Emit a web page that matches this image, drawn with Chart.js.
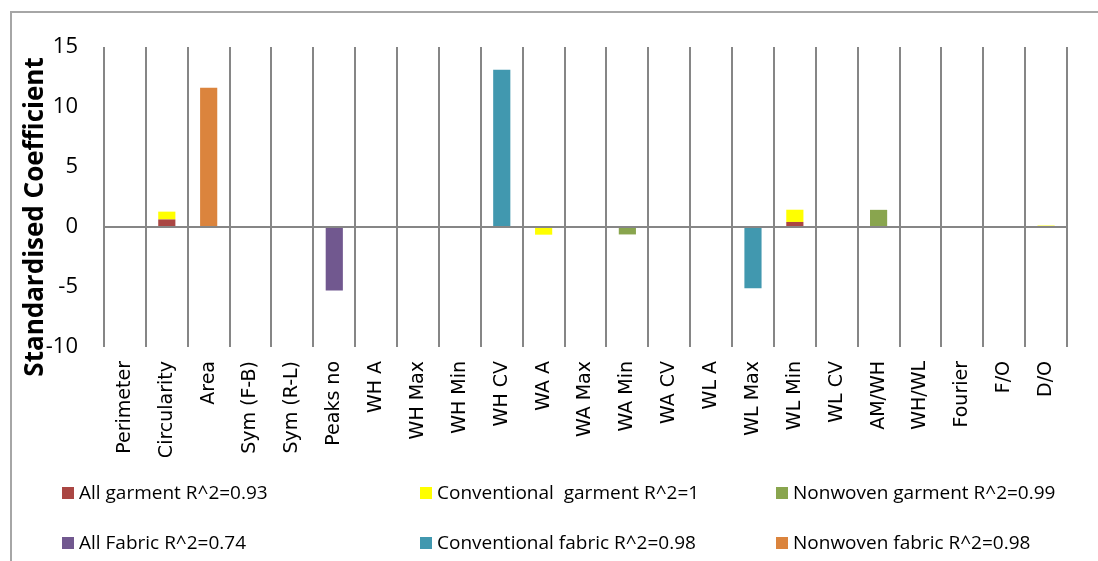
<!DOCTYPE html>
<html>
<head>
<meta charset="utf-8">
<script src="https://cdn.jsdelivr.net/npm/chart.js@4/dist/chart.umd.min.js"></script>
<style>
  body { margin: 0; background: #fff; overflow: hidden; }
  #wrap { position: relative; width: 1098px; height: 561px; }
  #frame { position: absolute; left: 10px; top: 11px; width: 1200px; height: 700px; border: 2px solid #a6a6a6; box-sizing: border-box; }
  canvas { position: absolute; left: 0; top: 0; }
  .lg { position: absolute; font-family: "Open Sans", sans-serif; font-size: 19px; color: #000; white-space: nowrap; line-height: 22px; }
  .lg span { display: inline-block; width: 12px; height: 12px; margin-right: 5px; vertical-align: 0px; }
</style>
</head>
<body>
<div id="wrap">
  <div id="frame"></div>
  <canvas id="myChart" width="1098" height="561"></canvas>
  <div id="legend"></div>
</div>
<script>
const categories = ['Perimeter','Circularity','Area','Sym (F-B)','Sym (R-L)','Peaks no','WH A','WH Max','WH Min','WH CV',
  'WA A','WA Max','WA Min','WA CV','WL A','WL Max','WL Min','WL CV','AM/WH','WH/WL','Fourier','F/O','D/O'];

const seriesNames = ['All garment R^2=0.93','Conventional  garment R^2=1','Nonwoven garment R^2=0.99',
  'All Fabric R^2=0.74','Conventional fabric R^2=0.98','Nonwoven fabric R^2=0.98'];

//                  Per  Cir   Area  SFB  SRL  Peak  WHA  WHMx WHMn WHCV  WAA   WAMx WAMn  WACV WLA  WLMx  WLMn WLCV AMWH WHWL Four F/O  D/O
const allGarment   = [null,0.63,null,null,null,null,null,null,null,null,null,null,null,null,null,null,0.42,null,null,null,null,null,null];
const convGarment  = [null,0.65,null,null,null,null,null,null,null,null,-0.64,null,null,null,null,null,1.02,null,null,null,null,null,0.12];
const nonwGarment  = [null,null,null,null,null,null,null,null,null,null,null,null,-0.62,null,null,null,null,null,1.43,null,null,null,null];
const allFabric    = [null,null,null,null,null,-5.3,null,null,null,null,null,null,null,null,null,null,null,null,null,null,null,null,null];
const convFabric   = [null,null,null,null,null,null,null,null,null,13.1,null,null,null,null,null,-5.1,null,null,null,null,null,null,null];
const nonwFabric   = [null,null,11.6,null,null,null,null,null,null,null,null,null,null,null,null,null,null,null,null,null,null,null,null];

const yTicks = [-10, -5, 0, 5, 10, 15];
const colors = ['#AA4643','#FFFF00','#89A54E','#71588F','#4198AF','#DB843D'];
const seriesValues = [allGarment, convGarment, nonwGarment, allFabric, convFabric, nonwFabric];

const gridGray = '#868686';

// y axis title, drawn a bit lower than the plot centre like the original
const yTitle = {
  id: 'yTitle',
  afterDraw(chart) {
    const ctx = chart.ctx;
    ctx.save();
    ctx.translate(36, 217);
    ctx.rotate(-Math.PI / 2);
    ctx.font = 'bold 26px "Open Sans"';
    ctx.fillStyle = '#000';
    ctx.textAlign = 'center';
    ctx.textBaseline = 'middle';
    ctx.fillText('Standardised Coefficient', 0, 0);
    ctx.restore();
  }
};

const datasets = seriesNames.map(function(name, i) {
  return {
    label: name,
    data: seriesValues[i],
    backgroundColor: colors[i],
    borderWidth: 0,
    categoryPercentage: 1,
    barPercentage: 0.41
  };
});

const chart = new Chart(document.getElementById('myChart'), {
  type: 'bar',
  data: { labels: categories, datasets: datasets },
  options: {
    responsive: false,
    animation: false,
    layout: { padding: { left: 0, top: 47, right: 31, bottom: 104 } },
    plugins: { legend: { display: false }, tooltip: { enabled: false } },
    scales: {
      x: {
        stacked: true,
        grid: { offset: true, color: gridGray, lineWidth: 2, drawTicks: false },
        border: { display: false },
        ticks: {
          minRotation: 90, maxRotation: 90, autoSkip: false, padding: 14,
          color: '#000', font: { family: 'DejaVu Sans', size: 19 }
        },
        afterFit(scale) { scale.height = 110; }
      },
      y: {
        stacked: true,
        min: yTicks[0], max: yTicks[yTicks.length - 1],
        grid: {
          drawTicks: false, lineWidth: 2,
          color: function(c) { return c.tick && c.tick.value === 0 ? gridGray : 'rgba(0,0,0,0)'; }
        },
        border: { display: false },
        afterBuildTicks(scale) { scale.ticks = yTicks.map(function(v) { return { value: v }; }); },
        ticks: { padding: 26, color: '#000', font: { family: 'Open Sans', size: 22 } },
        afterFit(scale) { scale.width = 104; }
      }
    }
  },
  plugins: [yTitle]
});

// legend in three columns, two rows
const legendPos = [[62, 481], [420, 481], [776, 481], [62, 531], [420, 531], [776, 531]];
const legend = document.getElementById('legend');
chart.data.datasets.forEach(function(ds, i) {
  const item = document.createElement('div');
  item.className = 'lg';
  item.style.left = legendPos[i][0] + 'px';
  item.style.top = legendPos[i][1] + 'px';
  item.innerHTML = '<span style="background:' + ds.backgroundColor + '"></span>' + ds.label.replace('  ', ' &nbsp;');
  legend.appendChild(item);
});
</script>
</body>
</html>
